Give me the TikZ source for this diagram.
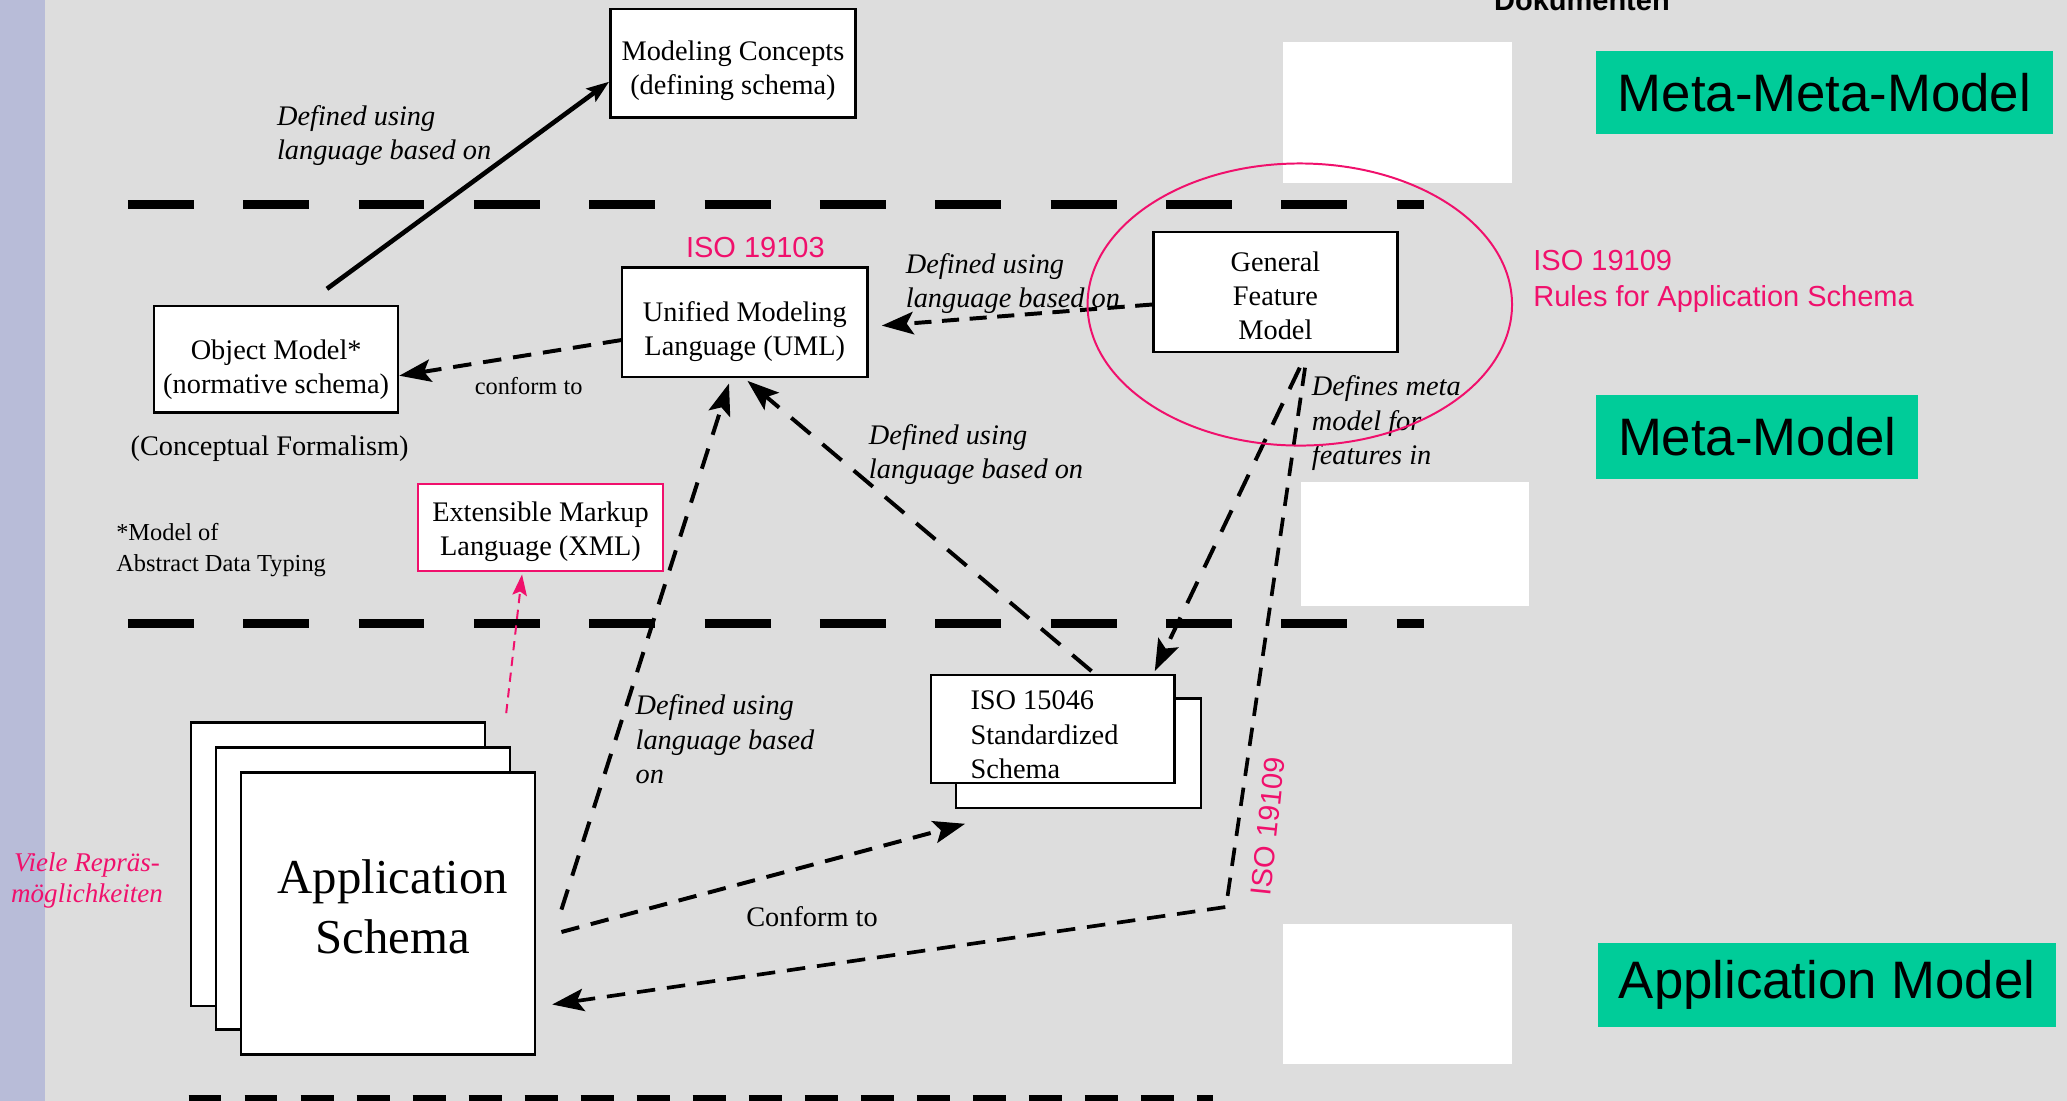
\documentclass[tikz,border=0pt]{standalone}
\usepackage{fontspec}
\setmainfont{Liberation Serif}
\newfontfamily\sansfont{Liberation Sans}
\usetikzlibrary{arrows.meta}
\definecolor{bggray}{RGB}{221,221,221}
\definecolor{stripblue}{RGB}{184,188,216}
\definecolor{levelgreen}{RGB}{0,204,153}
\definecolor{isopink}{RGB}{240,16,108}
% invisible strut that pushes a box's text block downwards
\newcommand\txtdrop[1]{\rule{0pt}{#1}}
\begin{document}
\begin{tikzpicture}[x=1pt,y=-1pt,
  every node/.style={inner sep=0pt},
  box/.style={draw=black,fill=white,line width=1.8pt,align=center,font=\fontsize{21.5}{26}\selectfont},
  backbox/.style={draw=black,fill=white,line width=1.8pt},
  xmlbox/.style={draw=isopink,fill=white,line width=1.5pt,align=center,font=\fontsize{21.5}{26}\selectfont},
  level/.style={fill=levelgreen,font=\sansfont\fontsize{40}{48}\selectfont},
  blank/.style={fill=white},
  lab/.style={font=\itshape\fontsize{21.5}{26}\selectfont,align=left,anchor=north west},
  txt/.style={font=\fontsize{21.5}{26}\selectfont,align=center},
  isotxt/.style={text=isopink,font=\sansfont\fontsize{22}{27}\selectfont,align=left},
  separator/.style={line width=7pt,dash pattern=on 50pt off 37.5pt},
  conn/.style={line width=3pt,dash pattern=on 14pt off 9pt,-{Stealth[length=24pt,width=17pt,inset=5pt]}},
  solidarrow/.style={line width=3.5pt,-{Stealth[length=17pt,width=12pt,inset=3pt]}},
  pinkarrow/.style={isopink,line width=1.5pt,dash pattern=on 7pt off 5pt,-{Stealth[length=16pt,width=11pt,inset=3pt]}}
]
\useasboundingbox (0,0) rectangle (1568,835);
\fill[bggray] (0,0) rectangle (1568,835);
\fill[stripblue] (0,0) rectangle (34,835);

% heading cut at the top edge
\node[font=\sansfont\bfseries\fontsize{22}{26}\selectfont,anchor=base] (doc) at (1200,8) {Dokumenten};

% blank panels on the right
\node[blank,minimum width=174pt,minimum height=107pt] (wb1) at (1060,85.5) {};
\node[blank,minimum width=173pt,minimum height=94pt] (wb2) at (1073.5,413) {};
\node[blank,minimum width=174pt,minimum height=106pt] (wb3) at (1060,754) {};

% level separators
\draw[separator] (97,155) -- (1080,155);
\draw[separator] (97,473) -- (1080,473);
\draw[line width=7pt,dash pattern=on 25pt off 17.5pt] (143,834) -- (920,834);

% level names
\node[level,minimum width=346pt,minimum height=63pt] (lvl1) at (1384,70.5) {Meta-Meta-Model};
\node[level,minimum width=244pt,minimum height=63pt] (lvl2) at (1333,331.5) {Meta-Model};
\node[level,minimum width=348pt,minimum height=64pt] (lvl3) at (1386,747) {Application Model};

% schema boxes
\node[box,minimum width=186pt,minimum height=82pt] (mc) at (556,48) {\txtdrop{25.7pt}Modeling Concepts\\(defining schema)};
\node[box,minimum width=186pt,minimum height=83pt] (uml) at (565,244.5) {\txtdrop{28.7pt}Unified Modeling\\Language (UML)};
\node[box,minimum width=185pt,minimum height=81pt] (om) at (209.5,272.5) {\txtdrop{30.7pt}Object Model*\\(normative schema)};
\node[box,minimum width=185pt,minimum height=91pt] (gfm) at (967.5,221.5) {\txtdrop{20.7pt}General\\Feature\\Model};
\node[xmlbox,minimum width=186pt,minimum height=66pt] (xml) at (410,400) {\txtdrop{21.7pt}Extensible Markup\\Language (XML)};

\node[backbox,minimum width=186pt,minimum height=83pt] (isoB) at (818,571.5) {};
\node[backbox,minimum width=185pt,minimum height=82pt] (isoF) at (798.5,553) {};
\node[txt,align=left,anchor=north west] (isotext) at (736,524) {ISO 15046\\Standardized\\Schema};

\node[backbox,minimum width=223pt,minimum height=215pt] (appB) at (256.5,655.5) {};
\node[backbox,minimum width=223pt,minimum height=214pt] (appM) at (275.5,674) {};
\node[backbox,minimum width=223pt,minimum height=214pt] (appF) at (294.5,693) {};
\node[font=\fontsize{37}{45}\selectfont,align=center] (apptext) at (298,688) {Application\\Schema};

% connectors
\draw[solidarrow] ([xshift=38.5pt,yshift=12pt]om.north) -- ([yshift=-14pt]mc.west);
\draw[conn] ([yshift=-13.5pt]uml.west) -- ([yshift=-12.5pt]om.east);
\draw[conn,dash pattern=on 13pt off 8pt] ([yshift=-9.5pt]gfm.west) -- ([xshift=10pt,yshift=-2.5pt]uml.east);
\draw[conn,dash pattern=on 18pt off 12pt] ([xshift=18.5pt,yshift=-11pt]gfm.south) -- ([xshift=77.5pt,yshift=2pt]isoF.north);
\draw[conn,dash pattern=on 19pt off 12pt] ([xshift=29.5pt,yshift=2pt]isoF.north) -- ([xshift=2pt,yshift=-2pt]uml.south);
\draw[conn,dash pattern=on 16pt off 11pt] ([xshift=19pt,yshift=3pt]appF.east) -- ([xshift=-12pt,yshift=-4pt]uml.south);
\draw[conn] ([xshift=19pt,yshift=-14pt]appF.east) -- ([xshift=8pt,yshift=-11pt]isoB.south west);
\coordinate (bend) at (930,688);
\draw[conn,line width=2.8pt] ([xshift=22.5pt,yshift=-11pt]gfm.south) -- (bend) -- ([xshift=12pt,yshift=-69pt]appF.east);
\coordinate (xmlfrom) at (384,541);
\draw[pinkarrow] (xmlfrom) -- ([xshift=-14pt,yshift=-2pt]xml.south);

% connector labels
\node[lab] (l1) at (210,80) {Defined using\\language based on};
\node[lab] (l3) at (687,192) {Defined using\\language based on};
\node[lab] (l4) at (995,285) {Defines meta\\model for\\features in};
\node[lab] (l5) at (659,322) {Defined using\\language based on};
\node[lab] (l6) at (482,527) {Defined using\\language based\\on};
\node[txt,font=\fontsize{18.5}{23}\selectfont] (c1) at (401,293) {conform to};
\node[txt] (c2) at (616,695) {Conform to};

% notes
\node[txt] (cf) at (204.5,340) {(Conceptual Formalism)};
\node[txt,font=\fontsize{18.5}{23}\selectfont,align=left,anchor=north west] (adt) at (88,397) {*Model of\\Abstract Data Typing};
\node[text=isopink,font=\itshape\fontsize{20.5}{24}\selectfont,align=center] (viele) at (66,668) {Viele Repräs-\\möglichkeiten};

% standard references
\node[isotxt,anchor=north west] (iso109) at (1163,190) {ISO 19109\\Rules for Application Schema};
\node[isotxt] (iso103) at (573,188) {ISO 19103};
\node[isotxt,rotate=84] (iso109v) at (962,627) {ISO 19109};
\draw[isopink,line width=1.5pt] (986,231) ellipse [x radius=161, y radius=107];
\end{tikzpicture}
\end{document}
